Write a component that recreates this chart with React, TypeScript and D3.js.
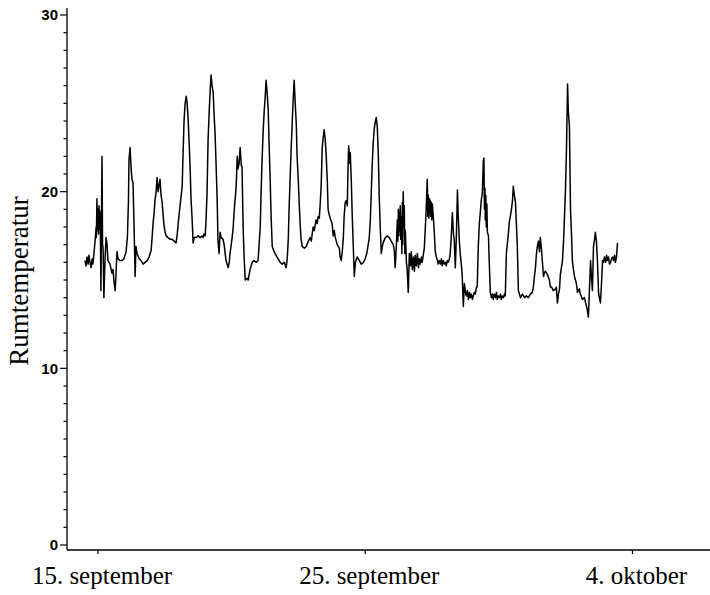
import React from "react";
import * as d3 from "d3";

// Room temperature log: [days after 15 September, °C]
const readings: [number, number][] = [
  [-0.49, 16.1], [-0.45, 15.8], [-0.41, 16.3], [-0.37, 15.9], [-0.34, 16.4], [-0.3, 16.0],
  [-0.26, 15.7], [-0.22, 16.2], [-0.19, 15.9], [-0.15, 16.5], [-0.11, 17.2], [-0.07, 18.0],
  [-0.06, 17.4], [-0.04, 19.6], [-0.02, 17.8], [0.0, 19.0], [0.02, 17.6], [0.04, 19.2],
  [0.06, 17.9], [0.07, 18.9], [0.09, 17.5], [0.11, 14.4], [0.13, 18.5], [0.15, 22.0],
  [0.17, 17.0], [0.19, 16.8], [0.21, 15.0], [0.22, 14.0], [0.26, 16.0], [0.3, 17.4],
  [0.34, 17.0], [0.37, 16.1], [0.45, 15.9], [0.52, 15.4], [0.56, 15.6], [0.6, 14.9],
  [0.64, 14.4], [0.67, 15.2], [0.71, 16.6], [0.75, 16.2], [0.82, 16.1], [0.9, 16.1],
  [0.97, 16.2], [1.05, 16.6], [1.1, 17.4], [1.14, 19.5], [1.16, 21.8], [1.2, 22.5],
  [1.24, 21.3], [1.27, 20.7], [1.31, 20.5], [1.35, 18.0], [1.39, 15.2], [1.42, 16.9],
  [1.46, 16.5], [1.54, 16.2], [1.61, 16.1], [1.69, 15.9], [1.76, 16.0], [1.84, 16.1],
  [1.91, 16.3], [1.99, 16.7], [2.02, 17.3], [2.06, 18.2], [2.1, 18.8], [2.13, 19.5],
  [2.17, 19.9], [2.21, 20.8], [2.25, 20.0], [2.28, 20.3], [2.32, 20.7], [2.36, 19.8],
  [2.4, 19.4], [2.43, 18.8], [2.47, 18.1], [2.51, 17.7], [2.55, 17.5], [2.62, 17.4],
  [2.7, 17.3], [2.77, 17.3], [2.85, 17.2], [2.92, 17.1], [2.96, 17.5], [3.0, 18.2],
  [3.07, 19.2], [3.15, 20.3], [3.18, 22.0], [3.22, 24.0], [3.26, 25.0], [3.3, 25.4],
  [3.33, 25.1], [3.37, 24.2], [3.41, 22.8], [3.45, 21.2], [3.48, 19.6], [3.52, 18.5],
  [3.56, 17.1], [3.6, 17.4], [3.67, 17.4], [3.75, 17.5], [3.82, 17.4], [3.9, 17.5],
  [3.93, 17.4], [3.97, 17.6], [4.01, 17.5], [4.04, 18.3], [4.08, 19.9], [4.12, 23.0],
  [4.16, 24.5], [4.19, 25.5], [4.23, 26.6], [4.27, 26.0], [4.31, 25.6], [4.34, 24.5],
  [4.38, 23.3], [4.42, 21.5], [4.46, 19.5], [4.49, 17.2], [4.53, 16.5], [4.57, 17.7],
  [4.61, 17.4], [4.68, 17.3], [4.72, 17.0], [4.79, 16.1], [4.83, 15.9], [4.87, 15.7],
  [4.91, 16.0], [4.94, 16.5], [5.02, 17.4], [5.06, 18.0], [5.09, 18.8], [5.17, 20.3],
  [5.21, 22.0], [5.24, 21.3], [5.28, 21.6], [5.32, 22.5], [5.36, 21.5], [5.39, 21.4],
  [5.43, 18.0], [5.47, 16.2], [5.51, 15.0], [5.58, 15.1], [5.62, 15.0], [5.69, 15.6],
  [5.77, 16.0], [5.84, 16.1], [5.92, 16.0], [5.99, 16.1], [6.07, 18.0], [6.1, 19.8],
  [6.14, 21.8], [6.18, 23.4], [6.22, 24.6], [6.25, 25.2], [6.29, 26.3], [6.33, 25.6],
  [6.37, 24.6], [6.4, 22.8], [6.44, 20.8], [6.48, 18.5], [6.52, 16.9], [6.59, 16.6],
  [6.7, 16.3], [6.82, 16.0], [6.89, 15.9], [6.97, 16.0], [7.04, 15.7], [7.08, 16.2],
  [7.12, 17.3], [7.15, 19.0], [7.19, 20.8], [7.23, 22.5], [7.27, 24.0], [7.3, 25.1],
  [7.34, 26.3], [7.38, 25.0], [7.42, 23.8], [7.45, 22.0], [7.49, 20.8], [7.53, 19.3],
  [7.57, 18.0], [7.6, 17.3], [7.64, 16.9], [7.72, 16.8], [7.79, 16.9], [7.87, 17.2],
  [7.94, 17.4], [7.98, 17.2], [8.05, 18.0], [8.09, 17.8], [8.16, 18.4], [8.2, 18.2],
  [8.24, 18.6], [8.28, 18.5], [8.31, 19.2], [8.35, 20.3], [8.39, 22.5], [8.43, 23.1],
  [8.46, 23.5], [8.5, 23.0], [8.54, 22.0], [8.58, 20.6], [8.61, 19.0], [8.65, 18.7],
  [8.69, 18.5], [8.76, 18.2], [8.8, 17.5], [8.84, 17.8], [8.88, 17.4], [8.95, 17.0],
  [9.03, 16.8], [9.06, 16.3], [9.1, 16.1], [9.14, 16.6], [9.18, 17.4], [9.21, 18.6],
  [9.25, 19.4], [9.29, 19.5], [9.33, 19.2], [9.35, 21.0], [9.38, 22.6], [9.42, 21.6],
  [9.44, 22.2], [9.48, 20.5], [9.51, 18.8], [9.55, 17.0], [9.59, 15.2], [9.63, 16.0],
  [9.7, 16.3], [9.78, 16.1], [9.85, 15.9], [9.93, 16.0], [10.0, 16.2], [10.07, 16.6],
  [10.15, 17.4], [10.19, 18.4], [10.22, 19.7], [10.26, 21.5], [10.3, 22.8], [10.34, 23.6],
  [10.37, 23.9], [10.41, 24.2], [10.45, 23.7], [10.49, 22.0], [10.52, 19.9], [10.56, 18.0],
  [10.6, 16.5], [10.64, 16.9], [10.67, 17.1], [10.75, 17.4], [10.82, 17.5], [10.9, 17.4],
  [10.97, 17.2], [11.05, 17.0], [11.09, 16.6], [11.12, 15.7], [11.16, 16.8], [11.2, 18.4],
  [11.22, 17.2], [11.24, 19.0], [11.26, 17.5], [11.27, 18.8], [11.29, 17.8], [11.31, 19.2],
  [11.33, 17.3], [11.35, 18.6], [11.37, 16.5], [11.39, 19.4], [11.4, 17.0], [11.42, 20.0],
  [11.44, 18.0], [11.46, 19.2], [11.48, 16.5], [11.5, 17.8], [11.54, 16.0], [11.57, 15.6],
  [11.61, 14.3], [11.65, 16.5], [11.69, 15.8], [11.72, 16.6], [11.76, 15.6], [11.8, 16.3],
  [11.84, 15.5], [11.87, 16.4], [11.91, 15.8], [11.95, 16.5], [11.99, 15.7], [12.02, 16.2],
  [12.06, 15.9], [12.1, 16.3], [12.13, 16.0], [12.17, 16.4], [12.21, 16.8], [12.25, 18.0],
  [12.28, 19.0], [12.32, 20.7], [12.34, 18.6], [12.36, 19.8], [12.38, 18.5], [12.4, 19.6],
  [12.42, 18.8], [12.43, 19.5], [12.45, 18.6], [12.47, 19.4], [12.49, 18.4], [12.51, 19.3],
  [12.55, 18.5], [12.58, 17.8], [12.62, 16.6], [12.66, 16.3], [12.7, 16.1], [12.73, 15.9],
  [12.77, 16.1], [12.81, 15.9], [12.85, 16.2], [12.88, 15.8], [12.92, 16.1], [12.96, 15.9],
  [13.0, 16.0], [13.03, 15.8], [13.07, 16.1], [13.11, 16.0], [13.15, 16.2], [13.18, 16.5],
  [13.22, 17.5], [13.26, 18.8], [13.3, 17.6], [13.33, 17.3], [13.37, 15.7], [13.41, 17.5],
  [13.45, 20.1], [13.48, 18.6], [13.52, 17.2], [13.56, 16.4], [13.6, 15.8], [13.63, 15.2],
  [13.67, 13.5], [13.71, 14.8], [13.75, 14.3], [13.78, 14.1], [13.82, 14.4], [13.86, 13.9],
  [13.9, 14.3], [13.93, 14.0], [13.97, 14.2], [14.01, 13.9], [14.04, 14.1], [14.08, 14.3],
  [14.12, 14.2], [14.16, 14.6], [14.19, 14.6], [14.23, 16.9], [14.27, 18.2], [14.31, 18.9],
  [14.34, 19.5], [14.38, 19.9], [14.42, 21.8], [14.44, 21.9], [14.46, 19.0], [14.48, 20.2],
  [14.49, 18.4], [14.51, 19.8], [14.53, 18.0], [14.55, 19.3], [14.57, 17.7], [14.61, 17.5],
  [14.64, 16.0], [14.68, 14.3], [14.72, 14.0], [14.76, 14.2], [14.79, 13.9], [14.83, 14.2],
  [14.87, 14.0], [14.91, 14.3], [14.94, 13.9], [14.98, 14.1], [15.02, 14.0], [15.06, 14.2],
  [15.09, 13.9], [15.13, 14.1], [15.17, 14.0], [15.21, 14.2], [15.24, 14.1], [15.28, 16.5],
  [15.36, 17.7], [15.39, 18.3], [15.43, 18.6], [15.47, 19.0], [15.51, 19.5], [15.54, 20.3],
  [15.58, 19.8], [15.62, 19.4], [15.66, 18.0], [15.69, 16.9], [15.73, 14.4], [15.77, 14.2],
  [15.81, 14.0], [15.88, 14.2], [15.96, 14.0], [16.03, 14.1], [16.1, 14.0], [16.18, 14.2],
  [16.25, 14.3], [16.29, 14.6], [16.33, 15.2], [16.37, 15.7], [16.4, 16.4], [16.44, 16.9],
  [16.48, 17.2], [16.52, 16.6], [16.55, 17.4], [16.59, 16.8], [16.63, 16.0], [16.67, 15.2],
  [16.7, 15.4], [16.74, 15.5], [16.82, 15.3], [16.89, 15.0], [16.93, 14.6], [16.97, 14.6],
  [17.04, 14.4], [17.12, 14.5], [17.15, 14.6], [17.19, 13.7], [17.23, 14.2], [17.27, 14.5],
  [17.3, 15.3], [17.38, 16.1], [17.42, 17.2], [17.45, 18.4], [17.49, 20.0], [17.53, 22.4],
  [17.57, 26.1], [17.6, 24.5], [17.64, 23.7], [17.68, 19.0], [17.72, 17.5], [17.75, 16.1],
  [17.79, 15.6], [17.83, 15.2], [17.9, 14.8], [17.94, 14.3], [18.01, 14.5], [18.05, 14.2],
  [18.13, 13.9], [18.2, 14.0], [18.28, 13.5], [18.31, 13.3], [18.35, 12.9], [18.39, 14.5],
  [18.43, 16.1], [18.46, 15.3], [18.5, 14.4], [18.54, 16.9], [18.58, 17.3], [18.61, 17.7],
  [18.65, 17.2], [18.69, 16.0], [18.73, 14.3], [18.76, 14.0], [18.8, 13.7], [18.84, 14.8],
  [18.88, 16.1], [18.91, 16.0], [18.95, 16.3], [18.99, 16.0], [19.03, 16.4], [19.06, 16.1],
  [19.1, 16.3], [19.14, 15.9], [19.18, 16.0], [19.21, 16.2], [19.25, 16.3], [19.29, 16.1],
  [19.33, 16.4], [19.36, 16.0], [19.4, 16.3], [19.44, 17.1],
];

// Date axis: tick positions (days after 15 September) and their labels
const dateTicks = [0, 10, 20];
const dateLabels = ["15. september", "25. september", "4. oktober"];

// Temperature axis
const tempDomain: [number, number] = [0, 30];
const tempMajorTicks = [0, 10, 20, 30];
const tempMinorTicks = d3.range(0, 31, 1);
const dayDomain: [number, number] = [-1.16, 22.9];

const yTitle = "Rumtemperatur";

export default function App() {
  const width = 710;
  const height = 595;

  const axisLeft = 67;
  const axisBottom = 550;

  const x = d3.scaleLinear().domain(dayDomain).range([axisLeft, width]);
  const y = d3.scaleLinear().domain(tempDomain).range([545, 15]);

  const line = d3
    .line<[number, number]>()
    .x((d) => x(d[0]))
    .y((d) => y(d[1]));

  const serif = "'Liberation Serif', 'Times New Roman', serif";
  const sans = "'Liberation Sans', Arial, sans-serif";

  return (
    <div style={{ position: "absolute", left: 0, top: 0 }}>
      <svg width={width} height={height} style={{ display: "block", background: "#fff" }}>
        {/* y axis */}
        <line x1={axisLeft} x2={axisLeft} y1={8} y2={axisBottom} stroke="#000" strokeWidth={1.3} />
        {tempMinorTicks.map((t) => (
          <line
            key={"m" + t}
            x1={axisLeft - (t % 10 === 0 ? 7 : 3.5)}
            x2={axisLeft}
            y1={y(t)}
            y2={y(t)}
            stroke="#000"
            strokeWidth={1.2}
          />
        ))}
        {tempMajorTicks.map((t) => (
          <text
            key={"l" + t}
            x={axisLeft - 9}
            y={y(t)}
            dy="0.36em"
            textAnchor="end"
            fontFamily={sans}
            fontWeight="bold"
            fontSize={15}
            fill="#000"
          >
            {t}
          </text>
        ))}

        {/* x axis */}
        <line x1={axisLeft} x2={width} y1={axisBottom} y2={axisBottom} stroke="#000" strokeWidth={1.4} />
        {dateTicks.map((t, i) => (
          <g key={"x" + t}>
            <line x1={x(t)} x2={x(t)} y1={axisBottom} y2={axisBottom + 4} stroke="#000" strokeWidth={1.2} />
            <text
              x={x(t) + 4}
              y={584}
              textAnchor="middle"
              fontFamily={serif}
              fontSize={25}
              fill="#000"
            >
              {dateLabels[i]}
            </text>
          </g>
        ))}

        {/* y title */}
        <text
          transform={`translate(${28},${281}) rotate(-90)`}
          textAnchor="middle"
          fontFamily={serif}
          fontSize={27}
          fill="#000"
        >
          {yTitle}
        </text>

        {/* temperature trace */}
        <path d={line(readings) ?? ""} fill="none" stroke="#000" strokeWidth={1.5} strokeLinejoin="round" />
      </svg>
    </div>
  );
}
